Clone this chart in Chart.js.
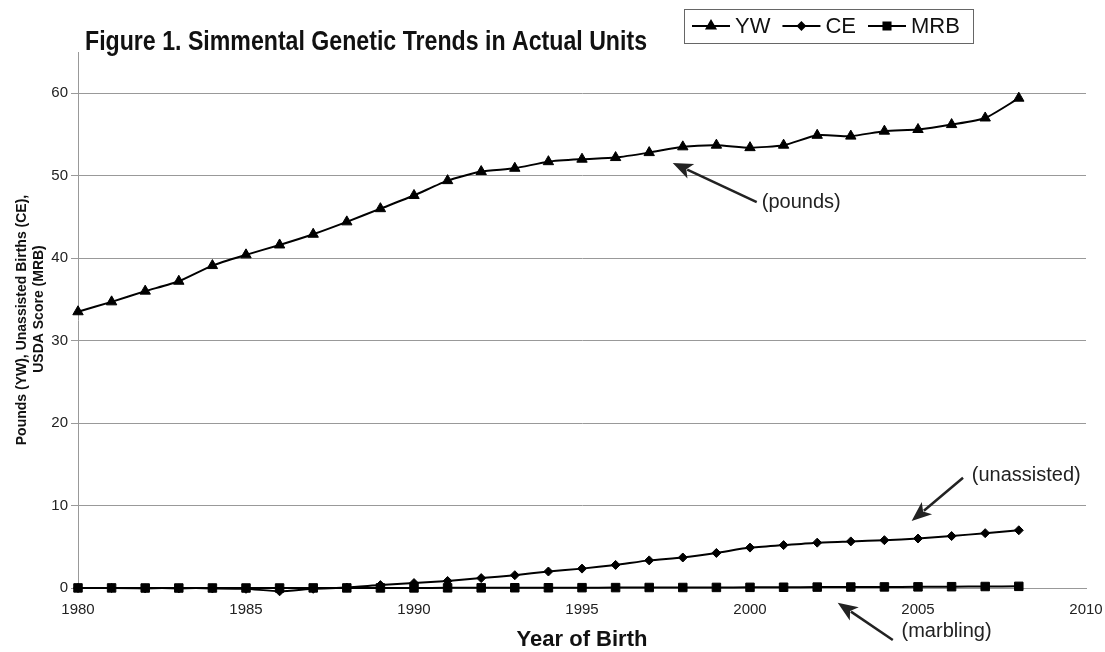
<!DOCTYPE html>
<html>
<head>
<meta charset="utf-8">
<title>Simmental Genetic Trends</title>
<script src="https://cdn.jsdelivr.net/npm/chart.js@4.4.0/dist/chart.umd.min.js"></script>
<style>
  body { margin: 0; background: #fff; }
  canvas { display: block; }
</style>
</head>
<body>
<canvas id="chart" width="1105" height="652"></canvas>
<script>
// Data, 1980 - 2008
const years = [1980, 1981, 1982, 1983, 1984, 1985, 1986, 1987, 1988, 1989,
               1990, 1991, 1992, 1993, 1994, 1995, 1996, 1997, 1998, 1999,
               2000, 2001, 2002, 2003, 2004, 2005, 2006, 2007, 2008];
const ywValues = [33.5, 34.7, 36.0, 37.2, 39.1, 40.4, 41.6, 42.9, 44.4, 46.0,
                  47.6, 49.4, 50.5, 50.9, 51.7, 52.0, 52.2, 52.8, 53.5, 53.7,
                  53.4, 53.7, 54.9, 54.8, 55.4, 55.6, 56.2, 57.0, 59.4];
const ceValues = [0.0, 0.0, -0.05, -0.05, -0.05, -0.1, -0.4, -0.1, 0.05, 0.35,
                  0.6, 0.85, 1.2, 1.55, 2.0, 2.35, 2.8, 3.35, 3.7, 4.25,
                  4.9, 5.2, 5.5, 5.65, 5.8, 6.0, 6.3, 6.65, 7.0];
const mrbValues = [0.01, 0.01, 0.0, 0.0, 0.0, 0.0, 0.0, 0.01, 0.01, 0.01,
                   0.01, 0.02, 0.02, 0.03, 0.03, 0.04, 0.05, 0.06, 0.06, 0.07,
                   0.08, 0.09, 0.11, 0.12, 0.13, 0.14, 0.16, 0.18, 0.2];
const seriesNames = ['YW', 'CE', 'MRB'];
const xTicks = [1980, 1985, 1990, 1995, 2000, 2005, 2010];
const yTicks = [0, 10, 20, 30, 40, 50, 60];

// arrows + labels, in data units (year, value)
const notes = [
    { text: '(pounds)', tail: [2000.2, 46.8], tip: [1997.7, 51.55], at: [2000.35, 46.8] },
    { text: '(unassisted)', tail: [2006.34, 13.37], tip: [2004.81, 8.12], at: [2006.6, 13.7] },
    { text: '(marbling)', tail: [2004.25, -6.3], tip: [2002.61, -1.78], at: [2004.51, -5.3] }
];

const FONT = "'Liberation Sans', Arial, sans-serif";

function toPoints(vals) {
    return years.map((y, i) => ({ x: y, y: vals[i] }));
}

const markerStyles = {
    YW: { pointStyle: 'triangle', radius: 6 },
    CE: { pointStyle: 'rectRot', radius: 4.5 },
    MRB: { pointStyle: 'rect', radius: 6 }
};

function makeSet(name, vals, order) {
    return {
        label: name,
        data: toPoints(vals),
        borderColor: '#000',
        borderWidth: 2,
        backgroundColor: '#000',
        pointStyle: markerStyles[name].pointStyle,
        pointRadius: markerStyles[name].radius,
        pointBorderWidth: 1,
        pointBackgroundColor: '#000',
        tension: 0.2,
        clip: false,
        order: order
    };
}

function drawArrow(ctx, x1, y1, x2, y2) {
    const ang = Math.atan2(y2 - y1, x2 - x1);
    const len = 20, half = 8;
    const bx = x2 - Math.cos(ang) * len, by = y2 - Math.sin(ang) * len;
    ctx.beginPath();
    ctx.moveTo(x1, y1);
    ctx.lineTo(bx + Math.cos(ang) * 4, by + Math.sin(ang) * 4);
    ctx.lineWidth = 2.5;
    ctx.strokeStyle = '#222';
    ctx.stroke();
    ctx.beginPath();
    ctx.moveTo(x2, y2);
    ctx.lineTo(bx + Math.sin(ang) * half, by - Math.cos(ang) * half);
    ctx.lineTo(bx + Math.cos(ang) * 5, by + Math.sin(ang) * 5);
    ctx.lineTo(bx - Math.sin(ang) * half, by + Math.cos(ang) * half);
    ctx.closePath();
    ctx.fillStyle = '#222';
    ctx.fill();
}

const decorPlugin = {
    id: 'decor',
    afterDraw(chart) {
        const ctx = chart.ctx;
        const xs = chart.scales.x, ys = chart.scales.y;
        ctx.save();

        // title (narrow bold, squeezed if no narrow face is installed)
        const title = 'Figure 1. Simmental Genetic Trends in Actual Units';
        ctx.font = "bold 28px 'Liberation Sans Narrow', 'Arial Narrow', sans-serif";
        let w = ctx.measureText(title).width;
        ctx.fillStyle = '#111';
        ctx.textBaseline = 'alphabetic';
        ctx.textAlign = 'left';
        ctx.save();
        ctx.translate(85, 50);
        if (w > 600) ctx.scale(562 / w, 1);
        ctx.fillText(title, 0, 0);
        ctx.restore();

        // y axis title, two lines
        ctx.font = 'bold 14px ' + FONT;
        ctx.textAlign = 'center';
        ctx.textBaseline = 'middle';
        ctx.save();
        ctx.translate(22, 320);
        ctx.rotate(-Math.PI / 2);
        ctx.fillText('Pounds (YW), Unassisted Births (CE),', 0, 0);
        ctx.restore();
        ctx.save();
        ctx.translate(39, 309);
        ctx.rotate(-Math.PI / 2);
        ctx.fillText('USDA Score (MRB)', 0, 0);
        ctx.restore();

        // x axis title
        ctx.font = 'bold 22px ' + FONT;
        ctx.textBaseline = 'alphabetic';
        ctx.fillText('Year of Birth', 582, 646);

        // legend box
        ctx.strokeStyle = '#666';
        ctx.lineWidth = 1;
        ctx.strokeRect(684.5, 9.5, 289, 34);
        ctx.font = '22px ' + FONT;
        ctx.textAlign = 'left';
        ctx.textBaseline = 'middle';
        let lx = 692;
        const ly = 26;
        seriesNames.forEach(name => {
            ctx.beginPath();
            ctx.moveTo(lx, ly);
            ctx.lineTo(lx + 38, ly);
            ctx.strokeStyle = '#000';
            ctx.lineWidth = 2;
            ctx.stroke();
            ctx.fillStyle = '#000';
            Chart.helpers.drawPoint(ctx, {
                pointStyle: markerStyles[name].pointStyle,
                radius: markerStyles[name].radius - 1,
                rotation: 0,
                borderWidth: 1
            }, lx + 19, ly);
            ctx.fill();
            ctx.fillStyle = '#111';
            ctx.fillText(name, lx + 43, ly + 1);
            lx += 43 + ctx.measureText(name).width + 12;
        });

        // annotations
        ctx.font = '20px ' + FONT;
        notes.forEach(n => {
            drawArrow(ctx,
                xs.getPixelForValue(n.tail[0]), ys.getPixelForValue(n.tail[1]),
                xs.getPixelForValue(n.tip[0]), ys.getPixelForValue(n.tip[1]));
            ctx.fillStyle = '#222';
            ctx.textAlign = 'left';
            ctx.textBaseline = 'middle';
            ctx.fillText(n.text, xs.getPixelForValue(n.at[0]), ys.getPixelForValue(n.at[1]));
        });
        ctx.restore();
    }
};

new Chart(document.getElementById('chart'), {
    type: 'line',
    data: {
        datasets: [
            makeSet('YW', ywValues, 2),
            makeSet('CE', ceValues, 1),
            makeSet('MRB', mrbValues, 0)
        ]
    },
    options: {
        responsive: false,
        animation: false,
        devicePixelRatio: 1,
        layout: { padding: { left: 0, right: 19, top: 52, bottom: 0 } },
        plugins: {
            legend: { display: false },
            title: { display: false },
            tooltip: { enabled: false }
        },
        scales: {
            x: {
                type: 'linear',
                min: 1980,
                max: 2010,
                afterBuildTicks: axis => { axis.ticks = xTicks.map(v => ({ value: v })); },
                afterFit: axis => {
                    axis.height = 64;
                    axis.paddingLeft = 0;
                    axis.paddingRight = 0;
                },
                grid: { display: false },
                border: { display: true, color: '#999', width: 1 },
                ticks: {
                    padding: 5,
                    color: '#222',
                    font: { family: FONT, size: 15 },
                    maxRotation: 0,
                    callback: v => String(v)
                }
            },
            y: {
                min: 0,
                max: 65,
                afterBuildTicks: axis => { axis.ticks = yTicks.map(v => ({ value: v })); },
                afterFit: axis => {
                    axis.width = 78;
                    axis.paddingTop = 0;
                    axis.paddingBottom = 0;
                },
                grid: { color: '#999', lineWidth: 1, tickLength: 7, drawTicks: true },
                border: { display: true, color: '#999', width: 1 },
                ticks: {
                    padding: 3,
                    color: '#222',
                    font: { family: FONT, size: 15 }
                }
            }
        }
    },
    plugins: [decorPlugin]
});
</script>
</body>
</html>
